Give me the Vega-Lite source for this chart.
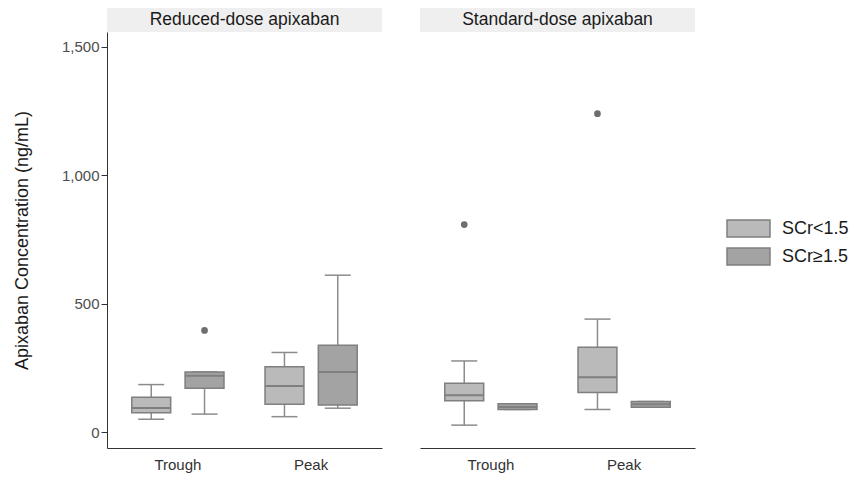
{
  "$schema": "https://vega.github.io/schema/vega-lite/v6.json",
  "padding": {"left": 13, "top": 8, "right": 5, "bottom": 5},
  "autosize": {"type": "pad"},
  "background": "white",
  "config": {
    "font": "Liberation Sans",
    "view": {"stroke": null},
    "axis": {
      "grid": false,
      "domainColor": "#333333",
      "tickColor": "#333333",
      "labelColor": "#4d4d4d",
      "labelFontSize": 15,
      "titleFontSize": 18,
      "titleFontWeight": "normal",
      "titleColor": "#1a1a1a"
    }
  },
  "datasets": {
    "boxes": [
      {"dose": "Reduced-dose apixaban", "time": "Trough", "scr": "SCr<1.5", "lower": 50, "q1": 75, "median": 94, "q3": 136, "upper": 185},
      {"dose": "Reduced-dose apixaban", "time": "Trough", "scr": "SCr≥1.5", "lower": 70, "q1": 171, "median": 219, "q3": 234, "upper": 234, "outlier": 396},
      {"dose": "Reduced-dose apixaban", "time": "Peak", "scr": "SCr<1.5", "lower": 60, "q1": 108, "median": 179, "q3": 254, "upper": 310},
      {"dose": "Reduced-dose apixaban", "time": "Peak", "scr": "SCr≥1.5", "lower": 93, "q1": 105, "median": 234, "q3": 338, "upper": 611},
      {"dose": "Standard-dose apixaban", "time": "Trough", "scr": "SCr<1.5", "lower": 27, "q1": 122, "median": 143, "q3": 190, "upper": 277, "outlier": 808},
      {"dose": "Standard-dose apixaban", "time": "Trough", "scr": "SCr≥1.5", "lower": 88, "q1": 88, "median": 98, "q3": 110, "upper": 110},
      {"dose": "Standard-dose apixaban", "time": "Peak", "scr": "SCr<1.5", "lower": 88, "q1": 154, "median": 214, "q3": 330, "upper": 440, "outlier": 1240},
      {"dose": "Standard-dose apixaban", "time": "Peak", "scr": "SCr≥1.5", "lower": 97, "q1": 97, "median": 108, "q3": 119, "upper": 119}
    ],
    "strips": [
      {"dose": "Reduced-dose apixaban"},
      {"dose": "Standard-dose apixaban"}
    ]
  },
  "vconcat": [
    {
      "data": {"name": "strips"},
      "facet": {"column": {"field": "dose", "type": "nominal", "header": null}},
      "spacing": 38,
      "spec": {
        "width": 275,
        "height": 24,
        "view": {"fill": "#efefef", "stroke": null},
        "mark": {"type": "text", "fontSize": 17.5, "color": "#1a1a1a"},
        "encoding": {"text": {"field": "dose", "type": "nominal"}}
      }
    },
    {
      "data": {"name": "boxes"},
      "facet": {"column": {"field": "dose", "type": "nominal", "header": null}},
      "spacing": 38,
      "spec": {
        "width": 275,
        "height": 416,
        "encoding": {
          "x": {"field": "time", "type": "nominal", "sort": ["Trough", "Peak"], "scale": {"paddingInner": 0.2, "paddingOuter": 0.132}, "axis": {"title": null, "ticks": false, "labelAngle": 0, "labelPadding": 9, "labelColor": "#333333"}},
          "xOffset": {"field": "scr", "type": "nominal", "sort": ["SCr<1.5", "SCr≥1.5"], "scale": {"paddingInner": 0.27, "paddingOuter": 0.135}}
        },
        "layer": [
          {
            "mark": {"type": "rule", "color": "#8c8c8c", "strokeWidth": 1.5},
            "encoding": {
              "y": {"field": "lower", "type": "quantitative", "title": "Apixaban Concentration (ng/mL)", "scale": {"domain": [-62, 1558], "nice": false, "zero": false}, "axis": {"values": [0, 500, 1000, 1500], "format": ",.0f", "tickSize": 6, "labelPadding": 2, "titlePadding": 30}},
              "y2": {"field": "upper"}
            }
          },
          {
            "mark": {"type": "tick", "size": 26, "thickness": 1.5, "color": "#8c8c8c", "opacity": 1},
            "encoding": {"y": {"field": "lower", "type": "quantitative", "title": "Apixaban Concentration (ng/mL)"}}
          },
          {
            "mark": {"type": "tick", "size": 26, "thickness": 1.5, "color": "#8c8c8c", "opacity": 1},
            "encoding": {"y": {"field": "upper", "type": "quantitative", "title": "Apixaban Concentration (ng/mL)"}}
          },
          {
            "mark": {"type": "bar", "stroke": "#7f7f7f", "strokeWidth": 1.5, "opacity": 1},
            "encoding": {
              "y": {"field": "q1", "type": "quantitative", "title": "Apixaban Concentration (ng/mL)"},
              "y2": {"field": "q3"},
              "fill": {
                "field": "scr", "type": "nominal",
                "scale": {"domain": ["SCr<1.5", "SCr≥1.5"], "range": ["#bababa", "#a3a3a3"]},
                "legend": {
                  "title": null,
                  "orient": "none",
                  "legendX": 630,
                  "legendY": 209,
                  "padding": 0,
                  "rowPadding": 3,
                  "symbolType": "M-2,-0.8H2V0.8H-2Z",
                  "symbolSize": 462,
                  "symbolStrokeColor": "#7f7f7f",
                  "symbolStrokeWidth": 1.5,
                  "symbolOpacity": 1,
                  "labelFontSize": 18,
                  "labelColor": "#1a1a1a",
                  "labelOffset": 22
                }
              }
            }
          },
          {
            "mark": {"type": "tick", "size": 39, "thickness": 2, "color": "#7f7f7f", "opacity": 1},
            "encoding": {"y": {"field": "median", "type": "quantitative", "title": "Apixaban Concentration (ng/mL)"}}
          },
          {
            "transform": [{"filter": "datum.outlier > 0"}],
            "mark": {"type": "point", "filled": true, "size": 45, "color": "#6e6e6e", "opacity": 1},
            "encoding": {"y": {"field": "outlier", "type": "quantitative", "title": "Apixaban Concentration (ng/mL)"}}
          }
        ]
      }
    }
  ],
  "spacing": 24,
  "bounds": "flush"
}
